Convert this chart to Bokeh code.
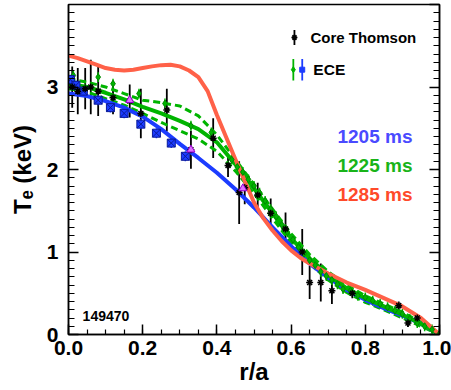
from bokeh.plotting import figure
from bokeh.models import (Range1d, LinearAxis, SingleIntervalTicker, Label,
                          FixedTicker)
from bokeh.embed import file_html
from bokeh.resources import INLINE

# ---- fitted profiles (r/a, Te keV) ----
x_prof = [0.00, 0.05, 0.10, 0.15, 0.20, 0.25, 0.30, 0.35, 0.40, 0.45, 0.50,
          0.55, 0.60, 0.65, 0.70, 0.75, 0.80, 0.85, 0.90, 0.95, 1.00]
te_1205 = [2.92, 2.89, 2.83, 2.75, 2.64, 2.49, 2.31, 2.14, 1.96, 1.76, 1.54,
           1.30, 1.07, 0.86, 0.69, 0.54, 0.42, 0.32, 0.23, 0.13, 0.00]
te_1225 = [3.04, 3.00, 2.93, 2.85, 2.76, 2.68, 2.59, 2.49, 2.33, 2.06, 1.77,
           1.47, 1.17, 0.92, 0.72, 0.56, 0.44, 0.34, 0.24, 0.13, 0.00]
te_1225_hi = [3.10, 3.06, 3.00, 2.92, 2.84, 2.81, 2.77, 2.65, 2.42, 2.12, 1.82,
              1.52, 1.22, 0.97, 0.76, 0.60, 0.47, 0.37, 0.27, 0.15, 0.00]
te_1225_lo = [2.98, 2.94, 2.86, 2.78, 2.68, 2.57, 2.47, 2.37, 2.22, 1.98, 1.71,
              1.41, 1.11, 0.86, 0.66, 0.51, 0.39, 0.30, 0.20, 0.10, 0.00]
x_1285 = [0.00, 0.025, 0.05, 0.075, 0.10, 0.125, 0.15, 0.175, 0.20, 0.225,
          0.25, 0.275, 0.30, 0.325, 0.35, 0.375, 0.40, 0.425, 0.45, 0.475,
          0.50, 0.525, 0.55, 0.575, 0.60, 0.625, 0.65, 0.70, 0.75, 0.80,
          0.85, 0.90, 0.95, 1.00]
te_1285 = [3.38, 3.35, 3.31, 3.27, 3.23, 3.21, 3.20, 3.21, 3.23, 3.25,
           3.265, 3.27, 3.25, 3.20, 3.12, 2.95, 2.66, 2.39, 2.12, 1.86,
           1.60, 1.41, 1.26, 1.13, 1.02, 0.93, 0.86, 0.74, 0.63, 0.54,
           0.44, 0.34, 0.20, 0.00]

# ---- Core Thomson points ----
ts_x = [0.01, 0.025, 0.045, 0.06, 0.08, 0.12, 0.165, 0.195, 0.265, 0.33,
        0.39, 0.43, 0.46, 0.475, 0.51, 0.545, 0.585, 0.63, 0.65, 0.68,
        0.71, 0.765, 0.89, 0.915, 0.94]
ts_y = [3.00, 2.95, 2.98, 3.00, 2.95, 2.87, 2.83, 2.68, 2.72, 2.24,
        2.38, 2.05, 1.72, 1.78, 1.69, 1.47, 1.28, 1.00, 0.63, 0.63,
        0.53, 0.50, 0.35, 0.14, 0.20]
ts_err = [0.25, 0.28, 0.25, 0.33, 0.30, 0.20, 0.20, 0.30, 0.26, 0.23,
          0.24, 0.14, 0.38, 0.20, 0.15, 0.18, 0.20, 0.28, 0.20, 0.23,
          0.16, 0.06, 0.05, 0.05, 0.05]

# ---- ECE points ----
ece_g_x = [0.005, 0.013, 0.08, 0.12, 0.19, 0.26, 0.33, 0.385, 0.44, 0.455,
           0.47, 0.485, 0.50, 0.515, 0.53, 0.545, 0.56, 0.575, 0.59, 0.605,
           0.62, 0.635, 0.65, 0.665, 0.68, 0.695, 0.71, 0.725, 0.74, 0.76,
           0.78, 0.80, 0.82, 0.84, 0.86, 0.88, 0.90, 0.92, 0.94, 0.96,
           0.98, 1.00]
ece_g_y = [3.06, 3.14, 3.12, 3.04, 2.92, 2.80, 2.53, 2.45, 2.12, 2.03,
           1.97, 1.88, 1.80, 1.72, 1.62, 1.52, 1.43, 1.33, 1.24, 1.15,
           1.06, 0.98, 0.90, 0.84, 0.76, 0.71, 0.66, 0.61, 0.55, 0.53,
           0.47, 0.45, 0.41, 0.37, 0.33, 0.29, 0.25, 0.19, 0.14, 0.10,
           0.06, 0.01]
ece_b_x = [0.005, 0.02, 0.04, 0.08, 0.113, 0.15, 0.195, 0.237, 0.277, 0.315]
ece_b_y = [3.09, 3.02, 2.95, 2.84, 2.75, 2.68, 2.55, 2.44, 2.32, 2.16]
ece_err = 0.06

# ---- other points (magenta triangles) ----
tri_x = [0.165, 0.33, 0.47]
tri_y = [2.84, 2.24, 1.77]

# tick labels
x_ticks = [0.0, 0.2, 0.4, 0.6, 0.8, 1.0]
x_tick_labels = ["0.0", "0.2", "0.4", "0.6", "0.8", "1.0"]
y_ticks = [0, 1, 2, 3]
y_tick_labels = ["0", "1", "2", "3"]

BLUE = "#1c3cff"
GREEN = "#00b400"
RED = "#ff6148"

p = figure(width=451, height=390, output_backend="svg", toolbar_location=None,
           x_range=Range1d(0, 1), y_range=Range1d(0, 4),
           min_border_left=68, min_border_right=12, min_border_top=4,
           min_border_bottom=56)
p.background_fill_color = "white"
p.border_fill_color = "white"
p.outline_line_color = "black"
p.outline_line_width = 1.5
p.xgrid.visible = False
p.ygrid.visible = False

FONT = "Liberation Sans"

def style_axis(ax, ticker, minor_in):
    ax.ticker = ticker
    ax.axis_line_width = 1.5
    ax.major_tick_in = 10
    ax.major_tick_out = 0
    ax.minor_tick_in = minor_in
    ax.minor_tick_out = 0
    ax.major_tick_line_width = 1.5
    ax.minor_tick_line_width = 1.2
    ax.major_label_text_font = FONT
    ax.major_label_text_font_style = "bold"
    ax.major_label_text_font_size = "21px"
    ax.major_label_text_color = "black"
    ax.axis_label_text_font = FONT
    ax.axis_label_text_font_style = "bold"
    ax.axis_label_text_font_size = "24px"
    ax.axis_label_text_color = "black"

x_minor = [i * 0.05 for i in range(21)]
y_minor = [i * 0.1 for i in range(41)]

style_axis(p.xaxis[0], FixedTicker(ticks=x_ticks, minor_ticks=x_minor), 5)
style_axis(p.yaxis[0], FixedTicker(ticks=y_ticks, minor_ticks=y_minor), 6)
p.xaxis[0].axis_label = "r/a"
p.xaxis[0].major_label_standoff = 6
p.xaxis[0].axis_label_standoff = 0
p.xaxis[0].major_label_overrides = dict(zip(x_ticks, x_tick_labels))
p.yaxis[0].axis_label = "Tₑ (keV)"
p.yaxis[0].major_label_standoff = 10
p.yaxis[0].axis_label_standoff = 8

right = LinearAxis()
style_axis(right, FixedTicker(ticks=[0, 1, 2, 3, 4], minor_ticks=y_minor), 6)
right.major_label_text_font_size = "1px"
right.major_label_text_color = None
right.major_label_standoff = 0
p.add_layout(right, "right")

# error bars (Thomson)
p.segment(x0=ts_x, x1=ts_x,
          y0=[y - e for y, e in zip(ts_y, ts_err)],
          y1=[y + e for y, e in zip(ts_y, ts_err)],
          line_color="black", line_width=1.8)

# ECE error bars
p.segment(x0=ece_g_x, x1=ece_g_x,
          y0=[y - ece_err for y in ece_g_y], y1=[y + ece_err for y in ece_g_y],
          line_color=GREEN, line_width=1.5)
p.segment(x0=ece_b_x, x1=ece_b_x,
          y0=[y - ece_err for y in ece_b_y], y1=[y + ece_err for y in ece_b_y],
          line_color=BLUE, line_width=1.5)

# profiles
p.line(x_prof, te_1225_hi, line_color=GREEN, line_width=3, line_dash="7 4")
p.line(x_prof, te_1225_lo, line_color=GREEN, line_width=3, line_dash="7 4")
p.line(x_prof, te_1205, line_color=BLUE, line_width=4, line_join="round")
p.line(x_prof, te_1225, line_color=GREEN, line_width=4, line_join="round")
p.line(x_1285, te_1285, line_color=RED, line_width=4, line_join="round")

# markers
p.scatter(ece_g_x, ece_g_y, marker="diamond", size=7, fill_color=GREEN,
          line_color="#008800", line_width=1)
p.scatter(ece_b_x, ece_b_y, marker="square_x", size=8, fill_color=BLUE,
          line_color="#0a1a99", line_width=1)
p.scatter(ts_x, ts_y, marker="asterisk", size=7, line_color="black",
          line_width=1.5)
p.scatter(tri_x, tri_y, marker="triangle", size=8, fill_color="#e070ff",
          line_color="#9a00d0", line_width=1)

# legend (manual)
p.segment(x0=[0.609], x1=[0.609], y0=[3.51], y1=[3.69], line_color="black",
          line_width=1.8)
p.scatter([0.609], [3.60], marker="asterisk", size=6, line_color="black",
          line_width=1.5)
p.segment(x0=[0.606], x1=[0.606], y0=[3.08], y1=[3.34], line_color=GREEN,
          line_width=1.8)
p.scatter([0.606], [3.21], marker="diamond", size=6, fill_color=GREEN,
          line_color=GREEN)
p.segment(x0=[0.630], x1=[0.630], y0=[3.08], y1=[3.34], line_color=BLUE,
          line_width=1.8)
p.scatter([0.630], [3.21], marker="square", size=5, fill_color=BLUE,
          line_color=BLUE)

def txt(x, y, s, color, size, style="bold"):
    p.add_layout(Label(x=x, y=y, text=s, text_color=color,
                       text_font=FONT, text_font_style=style,
                       text_font_size=size, text_baseline="middle",
                       text_align="left"))

txt(0.652, 3.60, "Core Thomson", "black", "15px")
txt(0.660, 3.21, "ECE", "black", "15.5px")
txt(0.725, 2.40, "1205 ms", "#4a4aff", "19px")
txt(0.725, 2.05, "1225 ms", "#19b419", "19px")
txt(0.725, 1.70, "1285 ms", "#ff4a2a", "19px")
txt(0.038, 0.22, "149470", "black", "14px")

open("out.html", "w").write(file_html(p, INLINE))
